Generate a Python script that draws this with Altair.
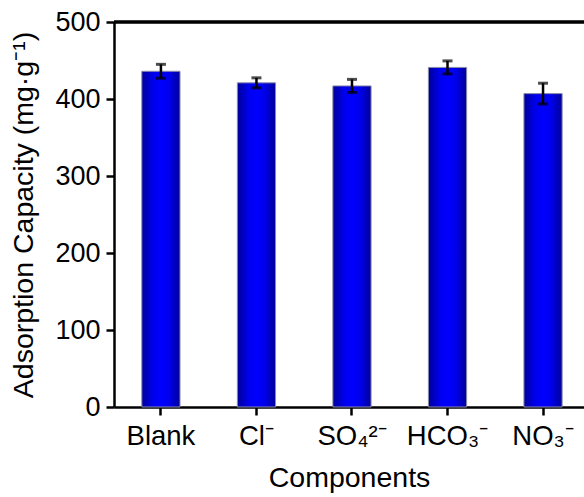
import altair as alt
import pandas as pd

# Adsorption capacity with different co-existing anions
components = ["Blank", "Cl⁻", "SO₄²⁻", "HCO₃⁻", "NO₃⁻"]
capacity = [436, 421, 417, 441, 407]
error = [9, 6.5, 8.5, 8.5, 13.5]

df = pd.DataFrame({"component": components, "capacity": capacity, "err": error})
df["lo"] = df["capacity"] - df["err"]
df["hi"] = df["capacity"] + df["err"]

FONT = "Liberation Sans"
W, H = 470, 385

x_enc = alt.X(
    "component:N",
    sort=components,
    title="Components",
    scale=alt.Scale(paddingInner=0.6, paddingOuter=0.26, align=0.56),
    axis=alt.Axis(
        labelAngle=0,
        labelFontSize=27.5,
        labelPadding=7,
        tickSize=8,
        tickWidth=2.5,
        tickColor="black",
        domainColor="black",
        domainWidth=2.5,
        titleFontSize=28.5,
        titleFontWeight="normal",
        titlePadding=14,
        grid=False,
    ),
)

y_scale = alt.Scale(domain=[0, 500], nice=False, zero=True)

bar_fill = alt.LinearGradient(
    gradient="linear",
    x1=0, x2=1, y1=0, y2=0,
    stops=[
        alt.GradientStop(color="#00009a", offset=0),
        alt.GradientStop(color="#0000ee", offset=0.3),
        alt.GradientStop(color="#0000ff", offset=0.5),
        alt.GradientStop(color="#0000ee", offset=0.7),
        alt.GradientStop(color="#00009a", offset=1),
    ],
)

bars = alt.Chart(df).mark_bar(
    color=bar_fill, stroke="#8c8ca8", strokeWidth=1
).encode(
    x=x_enc,
    y=alt.Y(
        "capacity:Q",
        scale=y_scale,
        title="Adsorption Capacity (mg·g⁻¹)",
        axis=alt.Axis(
            values=list(range(0, 501, 50)),
            labelExpr="datum.value % 100 === 0 ? datum.label : ''",
            labelFontSize=27,
            labelPadding=6,
            tickSize={"condition": {"test": "datum.value % 100 === 0", "value": 8}, "value": 4},
            tickWidth=2.5,
            tickColor="black",
            domainColor="black",
            domainWidth=2.5,
            titleFontSize=28.5,
            titleFontWeight="normal",
            titlePadding=16,
            grid=False,
        ),
    ),
)

whisker = alt.Chart(df).mark_rule(color="black", strokeWidth=2.5).encode(
    x=alt.X("component:N", sort=components),
    y=alt.Y("lo:Q", scale=y_scale),
    y2="hi:Q",
)

caps_lo = alt.Chart(df).mark_tick(color="black", thickness=3, size=10, orient="horizontal").encode(
    x=alt.X("component:N", sort=components),
    y=alt.Y("lo:Q", scale=y_scale),
)
caps_hi = alt.Chart(df).mark_tick(color="black", thickness=3, size=10, orient="horizontal").encode(
    x=alt.X("component:N", sort=components),
    y=alt.Y("hi:Q", scale=y_scale),
)

# top frame line
frame_top = alt.Chart(df).mark_rule(color="black", strokeWidth=2.5).encode(
    y=alt.datum(500, scale=y_scale)
)

chart = (
    alt.layer(bars, whisker, caps_lo, caps_hi, frame_top)
    .properties(
        width=W,
        height=H,
        autosize=alt.AutoSizeParams(type="none"),
        padding={"left": 114, "top": 22, "right": 0, "bottom": 90},
        background="white",
    )
    .configure_view(stroke=None)
    .configure(font=FONT)
    .configure_axis(labelFont=FONT, titleFont=FONT, labelColor="black", titleColor="black")
)

chart.save("out.html", embed_options={"renderer": "svg", "actions": False})
